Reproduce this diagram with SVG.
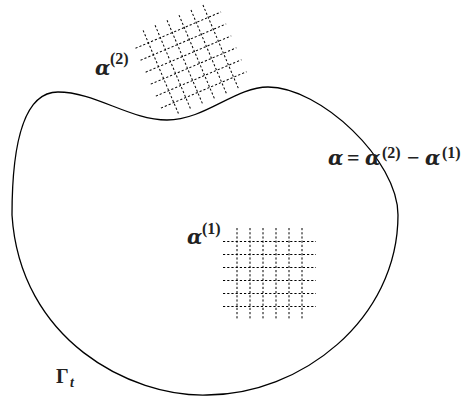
<svg xmlns="http://www.w3.org/2000/svg" xmlns:xlink="http://www.w3.org/1999/xlink" width="464" height="398" viewBox="0 0 464 398">
<style>
.outline{fill:none;stroke:#000;stroke-width:1.3}
.grid line{stroke:#000;stroke-width:1;stroke-dasharray:2.2 2}
.t{font-family:"Liberation Serif","Times New Roman",serif;font-weight:bold;fill:#222}
.it{font-style:italic}
.al{font-family:"DejaVu Serif","Liberation Serif",serif;font-style:italic;font-size:20px}
</style>
<defs>
<g id="grid" class="grid">
<line x1="-46.5" y1="-32.5" x2="46.5" y2="-32.5"/>
<line x1="-46.5" y1="-19.5" x2="46.5" y2="-19.5"/>
<line x1="-46.5" y1="-6.5" x2="46.5" y2="-6.5"/>
<line x1="-46.5" y1="6.5" x2="46.5" y2="6.5"/>
<line x1="-46.5" y1="19.5" x2="46.5" y2="19.5"/>
<line x1="-46.5" y1="32.5" x2="46.5" y2="32.5"/>
<line x1="-32.5" y1="-46" x2="-32.5" y2="46"/>
<line x1="-19.5" y1="-46" x2="-19.5" y2="46"/>
<line x1="-6.5" y1="-46" x2="-6.5" y2="46"/>
<line x1="6.5" y1="-46" x2="6.5" y2="46"/>
<line x1="19.5" y1="-46" x2="19.5" y2="46"/>
<line x1="32.5" y1="-46" x2="32.5" y2="46"/>
</g>
</defs>
<g id="boundary">
<path class="outline" d="M58,92 C95,92 130,120 167,120 C205,120 235,87 268,87 C320,87 398,160 398,215 C398,320 300,395 207,395 C130,397 20,340 12,215 C12,140 25,92 58,92 Z"/>
</g>
<g id="grid1"><use xlink:href="#grid" href="#grid" transform="translate(269.5,274)"/></g>
<g id="grid2"><use xlink:href="#grid" href="#grid" transform="translate(191,60) rotate(-23)"/></g>
<g id="label-alpha2">
<text class="t" font-size="22"><tspan class="al" x="95" y="75">α</tspan><tspan x="110" y="64" font-size="16">(2)</tspan></text>
</g>
<g id="label-alpha1">
<text class="t" font-size="22"><tspan class="al" x="187" y="244">α</tspan><tspan x="202" y="234" font-size="16">(1)</tspan></text>
</g>
<g id="label-alpha">
<text class="t" font-size="22"><tspan class="al" x="328" y="165">α</tspan><tspan x="347" y="165">=</tspan><tspan class="al" x="365" y="165">α</tspan><tspan x="382" y="158" font-size="16">(2)</tspan><tspan x="407" y="165">−</tspan><tspan class="al" x="425" y="165">α</tspan><tspan x="442" y="158" font-size="16">(1)</tspan></text>
</g>
<g id="label-gamma">
<text class="t" font-size="20"><tspan x="56" y="383">Γ</tspan><tspan class="it" x="70" y="387" font-size="14">t</tspan></text>
</g>
</svg>
